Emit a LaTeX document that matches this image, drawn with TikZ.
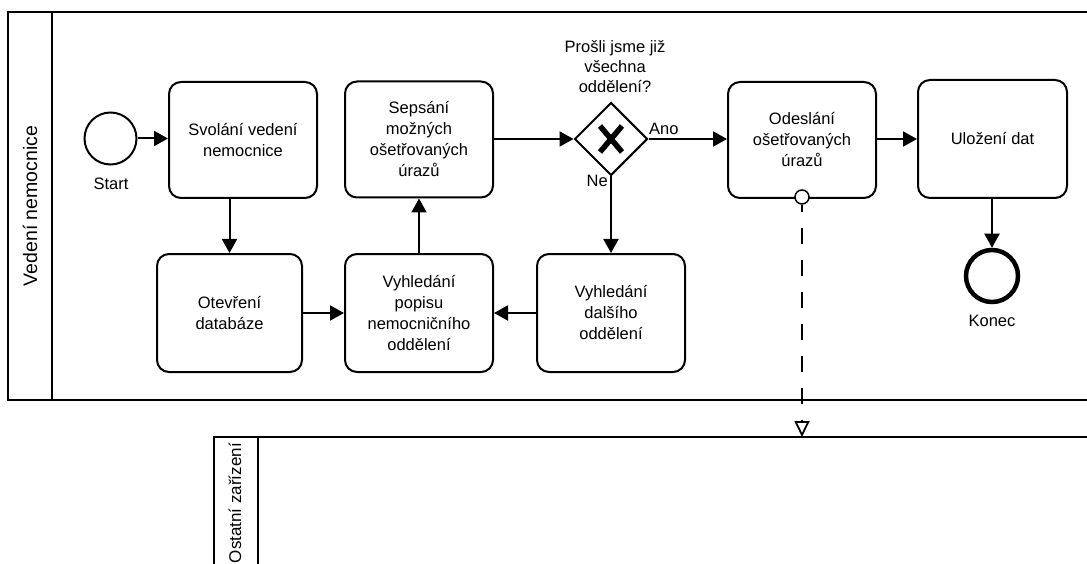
\documentclass[tikz,border=0pt]{standalone}
\usepackage{fontspec}
\setmainfont{Liberation Sans}
\usetikzlibrary{arrows.meta,shapes.geometric}
\begin{document}
\begin{tikzpicture}[x=1pt,y=-1pt,
  every node/.style={font=\fontsize{16.5}{21}\selectfont, text=black},
  pool/.style={draw, line width=2pt},
  task/.style={draw, line width=2pt, rounded corners=12pt, align=center,
    minimum width=148pt, minimum height=116pt, inner sep=2pt},
  startev/.style={draw, circle, line width=2pt, minimum size=52pt, inner sep=0pt},
  endev/.style={draw, circle, line width=4.5pt, minimum size=52pt, inner sep=0pt},
  gateway/.style={draw, diamond, line width=2pt, minimum width=73pt,
    minimum height=73pt, inner sep=0pt},
  flow/.style={line width=2pt, -{Triangle[length=14pt,width=15pt]}},
  msgflow/.style={line width=1.8pt, dash pattern=on 16pt off 16pt, dash phase=9pt,
    -{Triangle[open,length=16pt,width=15pt,line width=1.8pt]}},
  lanelabel/.style={rotate=90, font=\fontsize{19.5}{22}\selectfont},
  evlabel/.style={font=\fontsize{16.5}{20}\selectfont},
]
\useasboundingbox (0,0) rectangle (1087,564);
\clip (0,0) rectangle (1087,564);

% pools
\draw[pool] (1100,12) -- (8,12) -- (8,400) -- (1100,400);
\draw[pool] (52,12) -- (52,400);
\node[lanelabel] (lane1) at (30,206) {Vedení nemocnice};
\draw[pool] (1100,437) -- (214,437) -- (214,580);
\draw[pool] (258,437) -- (258,580);
\node[lanelabel, anchor=east, inner sep=0pt, font=\fontsize{17}{20}\selectfont] (lane2) at (235,443) {Ostatní zařízení};

% events
\node[startev] (start) at (110.5,138.5) {};
\node[evlabel] (startlbl) at (111,184) {Start};
\node[endev] (konec) at (992,276) {};
\node[evlabel] (koneclbl) at (992,321) {Konec};

% tasks
\node[task] (svol) at (243,140) {Svolání vedení\\nemocnice};
\node[task, minimum width=145pt, minimum height=118pt] (otev) at (229.5,313) {Otevření\\databáze};
\node[task] (seps) at (419,139.5) {Sepsání\\možných\\ošetřovaných\\úrazů};
\node[task, minimum height=118pt] (vyhp) at (419,313) {Vyhledání\\popisu\\nemocničního\\oddělení};
\node[task, minimum height=118pt] (vyhd) at (611,313) {Vyhledání\\dalšího\\oddělení};
\node[task] (odes) at (802,140) {Odeslání\\ošetřovaných\\úrazů};
\node[task, minimum width=149pt, minimum height=118pt] (uloz) at (992.5,139) {Uložení dat};

% exclusive gateway
\node[gateway] (gw) at (611,139) {};
\draw[line width=5.5pt] (gw.center) ++(-11,-13) -- ++(22,26);
\draw[line width=5.5pt] (gw.center) ++(11,-13) -- ++(-22,26);
\node[evlabel, align=center] (gwlbl) at (615,67) {Prošli jsme již\\všechna\\oddělení?};
\node[evlabel, anchor=south west, inner sep=1pt] (ano) at (648,136) {Ano};
\node[evlabel, anchor=north east, inner sep=1pt] (ne) at (609,174) {Ne};

% sequence flows
\draw[flow] (start) -- (svol.west |- start);
\draw[flow] (otev.north |- svol.south) -- (otev.north);
\draw[flow] (otev.east) -- (vyhp.west);
\draw[flow] (vyhp.north) -- (seps.south);
\draw[flow] (seps.east |- gw) -- (gw.west);
\draw[flow] (gw.east) -- (odes.west |- gw);
\draw[flow] (gw.south) -- (vyhd.north);
\draw[flow] (vyhd.west) -- (vyhp.east);
\draw[flow] (odes.east |- uloz) -- (uloz.west);
\draw[flow] (uloz.south -| konec) -- (konec.north);

% message flow
\node[draw, circle, fill=white, line width=1.5pt, minimum size=14pt, inner sep=0pt] (msg) at (802,197) {};
\coordinate (msgend) at (802,437);
\draw[msgflow] (msg.south) -- (msgend);
\end{tikzpicture}
\end{document}
